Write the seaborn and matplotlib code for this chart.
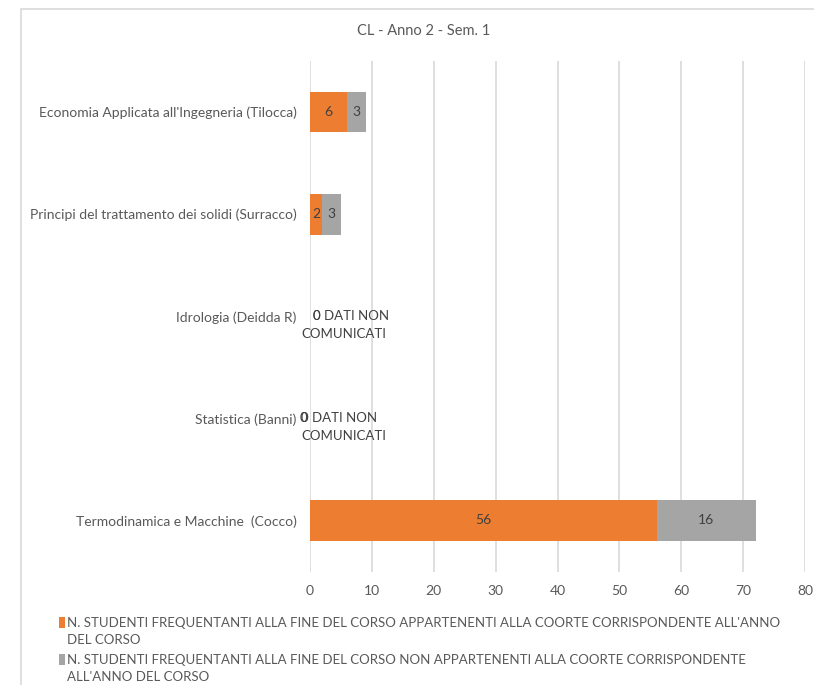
import matplotlib
matplotlib.use("Agg")
import matplotlib.pyplot as plt
from matplotlib.patches import Patch, Rectangle
import seaborn as sns

courses = [
    "Economia Applicata all'Ingegneria (Tilocca)",
    "Principi del trattamento dei solidi (Surracco)",
    "Idrologia (Deidda R)",
    "Statistica (Banni)",
    "Termodinamica e Macchine  (Cocco)",
]
coorte = [6, 2, 0, 0, 56]
non_coorte = [3, 3, 0, 0, 16]
note = ["", "", "DATI NON\nCOMUNICATI", "DATI NON\nCOMUNICATI", ""]

legend_labels = [
    "N. STUDENTI FREQUENTANTI ALLA FINE DEL CORSO APPARTENENTI ALLA COORTE CORRISPONDENTE ALL'ANNO\nDEL CORSO",
    "N. STUDENTI FREQUENTANTI ALLA FINE DEL CORSO NON APPARTENENTI ALLA COORTE CORRISPONDENTE\nALL'ANNO DEL CORSO",
]
title = "CL - Anno 2 - Sem. 1"

ORANGE = "#ED7D31"
GREY = "#A5A5A5"
TXT = "#595959"
LBL = "#404040"
GRID = "#D9D9D9"

sns.set_style("white")
plt.rcParams["font.family"] = ["Lato", "DejaVu Sans"]

fig = plt.figure(figsize=(8.14, 6.85), dpi=100)
ax = fig.add_axes([310 / 814, 1 - 571.5 / 685, 495 / 814, 510.5 / 685])

totals = [a + b for a, b in zip(coorte, non_coorte)]
sns.barplot(x=totals, y=courses, color=GREY, width=0.4, orient="h", ax=ax,
            saturation=1, linewidth=0)
sns.barplot(x=coorte, y=courses, color=ORANGE, width=0.4, orient="h", ax=ax,
            saturation=1, linewidth=0)

# data labels
for i, (a, b) in enumerate(zip(coorte, non_coorte)):
    if a + b > 0:
        ax.text(a / 2, i, str(a), ha="center", va="center", fontsize=10, color=LBL)
        ax.text(a + b / 2, i, str(b), ha="center", va="center", fontsize=10, color=LBL)
    else:
        # Excel puts the zero labels on top of each other, followed by the note
        first, second = note[i].split("\n")
        x0 = 2.2 if i == 2 else -6.2
        ax.annotate(f"{b} {first}", (0, i), xytext=(x0, 0), textcoords="offset points",
                    ha="left", va="center", fontsize=9.5, color=LBL)
        ax.annotate(str(a), (0, i), xytext=(x0 - (0 if i == 2 else 1.6), 0),
                    textcoords="offset points", ha="left", va="center", fontsize=9.5, color=LBL)
        ax.annotate(second, (0, i), xytext=(24, -13), textcoords="offset points",
                    ha="center", va="center", fontsize=9.5, color=LBL)

ax.set_xlim(0, 80)
ax.set_xticks(range(0, 81, 10))
ax.xaxis.grid(True, color=GRID, linewidth=1.2)
ax.yaxis.grid(False)
ax.set_axisbelow(True)
for s in ax.spines.values():
    s.set_visible(False)
ax.tick_params(axis="both", length=0, labelsize=10, colors=TXT)
ax.tick_params(axis="x", pad=10)
ax.tick_params(axis="y", pad=9.5)
ax.set_xlabel("")
ax.set_ylabel("")

fig.text(424 / 814, 1 - 31 / 685, title, ha="center", va="center", fontsize=10.5, color=TXT)

handles = [Patch(facecolor=ORANGE, edgecolor="none"), Patch(facecolor=GREY, edgecolor="none")]
leg = fig.legend(handles, legend_labels, loc="upper left", bbox_to_anchor=(52 / 814, 1 - 610 / 685),
                 frameon=False, fontsize=9.5, handlelength=0.5, handleheight=0.9,
                 handletextpad=0.1, labelspacing=0.65, labelcolor=TXT, borderpad=0)
for t in leg.get_texts():
    t.set_linespacing(1.5)
for col in leg._legend_handle_box.get_children():
    for item in col.get_children():
        item.align = "top"

fig.add_artist(Rectangle((21 / 814, -0.1), 2, 1.1 - 9 / 685, transform=fig.transFigure,
                         fill=False, edgecolor=GRID, linewidth=1.2))

fig.savefig("out.png", dpi=100, facecolor="white")
